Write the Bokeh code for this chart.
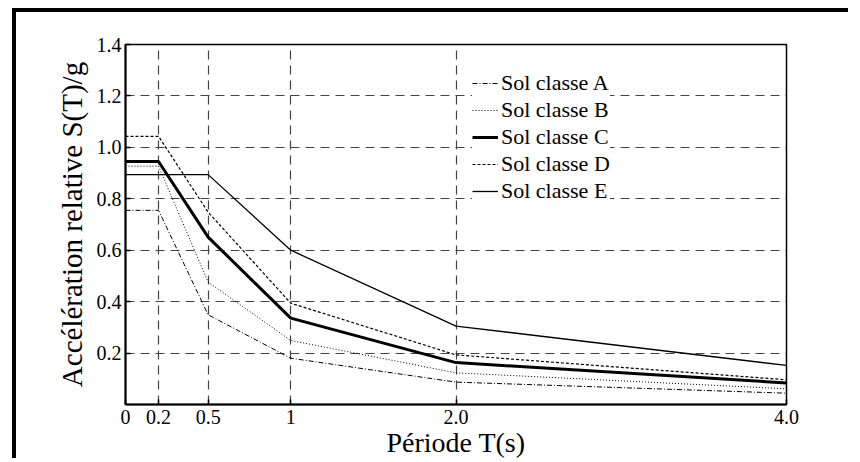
from bokeh.plotting import figure
from bokeh.models import Legend, LegendItem, FixedTicker
from bokeh.embed import file_html
from bokeh.resources import INLINE

# ---- data ----
periods = [0.0, 0.2, 0.5, 1.0, 2.0, 4.0]
sol_a = [0.755, 0.755, 0.349, 0.180, 0.087, 0.044]
sol_b = [0.927, 0.927, 0.476, 0.249, 0.123, 0.061]
sol_c = [0.945, 0.945, 0.651, 0.336, 0.163, 0.084]
sol_d = [1.043, 1.043, 0.748, 0.394, 0.193, 0.096]
sol_e = [0.894, 0.894, 0.894, 0.600, 0.305, 0.152]
series_names = ["Sol classe A", "Sol classe B", "Sol classe C", "Sol classe D", "Sol classe E"]
x_ticks = [0, 0.2, 0.5, 1, 2, 4]
x_tick_labels = ["0", "0.2", "0.5", "1", "2.0", "4.0"]
y_ticks = [0.2, 0.4, 0.6, 0.8, 1.0, 1.2, 1.4]
y_tick_labels = ["0.2", "0.4", "0.6", "0.8", "1.0", "1.2", "1.4"]

FONT = "Liberation Serif"

p = figure(width=836, height=450, x_range=(0, 4), y_range=(0, 1.4),
           output_backend="svg", toolbar_location=None,
           min_border_left=109, min_border_right=66, min_border_top=32, min_border_bottom=58,
           background_fill_color="white", border_fill_color="white")
p.styles = {"border-left": "4px solid black", "border-top": "4px solid black",
            "margin-left": "12px", "margin-top": "8px"}

p.outline_line_color = "black"
p.outline_line_width = 1.5

# axes
for ax in (p.xaxis[0], p.yaxis[0]):
    ax.axis_line_width = 2
    ax.axis_line_color = "black"
    ax.major_tick_in = 5
    ax.major_tick_out = 0
    ax.major_tick_line_color = "black"
    ax.major_tick_line_width = 1.5
    ax.minor_tick_line_color = None
    ax.major_label_text_font = FONT
    ax.major_label_text_font_size = "20px"
    ax.major_label_text_color = "black"
    ax.axis_label_text_font = FONT
    ax.axis_label_text_font_style = "normal"
    ax.axis_label_text_color = "black"

p.xaxis.axis_label_text_font_size = "28px"
p.yaxis.axis_label_text_font_size = "29px"

p.xaxis.ticker = FixedTicker(ticks=x_ticks)
p.xaxis.major_label_overrides = {t: l for t, l in zip(x_ticks, x_tick_labels)}
p.xaxis.axis_label = "Période T(s)"
p.xaxis.major_label_standoff = 5
p.xaxis.axis_label_standoff = 0

p.yaxis.ticker = FixedTicker(ticks=y_ticks)
p.yaxis.major_label_overrides = {t: l for t, l in zip(y_ticks, y_tick_labels)}
p.yaxis.axis_label = "Accélération relative S(T)/g"
p.yaxis.major_label_standoff = 4
p.yaxis.axis_label_standoff = 6

# grid
for g in (p.xgrid[0], p.ygrid[0]):
    g.grid_line_color = "#444444"
    g.grid_line_width = 1.2
    g.grid_line_dash = "9 6"
p.xgrid.ticker = FixedTicker(ticks=[0.2, 0.5, 1, 2])
p.ygrid.ticker = FixedTicker(ticks=[0.2, 0.4, 0.6, 0.8, 1.0, 1.2])

styles = [
    dict(line_width=1, line_dash="5 2 1 2"),
    dict(line_width=1, line_dash="1 2"),
    dict(line_width=3),
    dict(line_width=1.2, line_dash="3 2"),
    dict(line_width=1.3),
]
items = []
for name, ys, st in zip(series_names, [sol_a, sol_b, sol_c, sol_d, sol_e], styles):
    r = p.line(periods, ys, line_color="black", **st)
    items.append(LegendItem(label=name, renderers=[r]))

legend = Legend(items=items, location=(347, 200), border_line_color=None,
                background_fill_color="white", background_fill_alpha=1.0,
                label_text_font=FONT, label_text_font_size="22px",
                label_text_color="black",
                glyph_width=26, glyph_height=20, label_height=20,
                label_standoff=3, spacing=1, padding=8, margin=0)
p.add_layout(legend, "center")

open("out.html", "w").write(file_html(p, INLINE))
